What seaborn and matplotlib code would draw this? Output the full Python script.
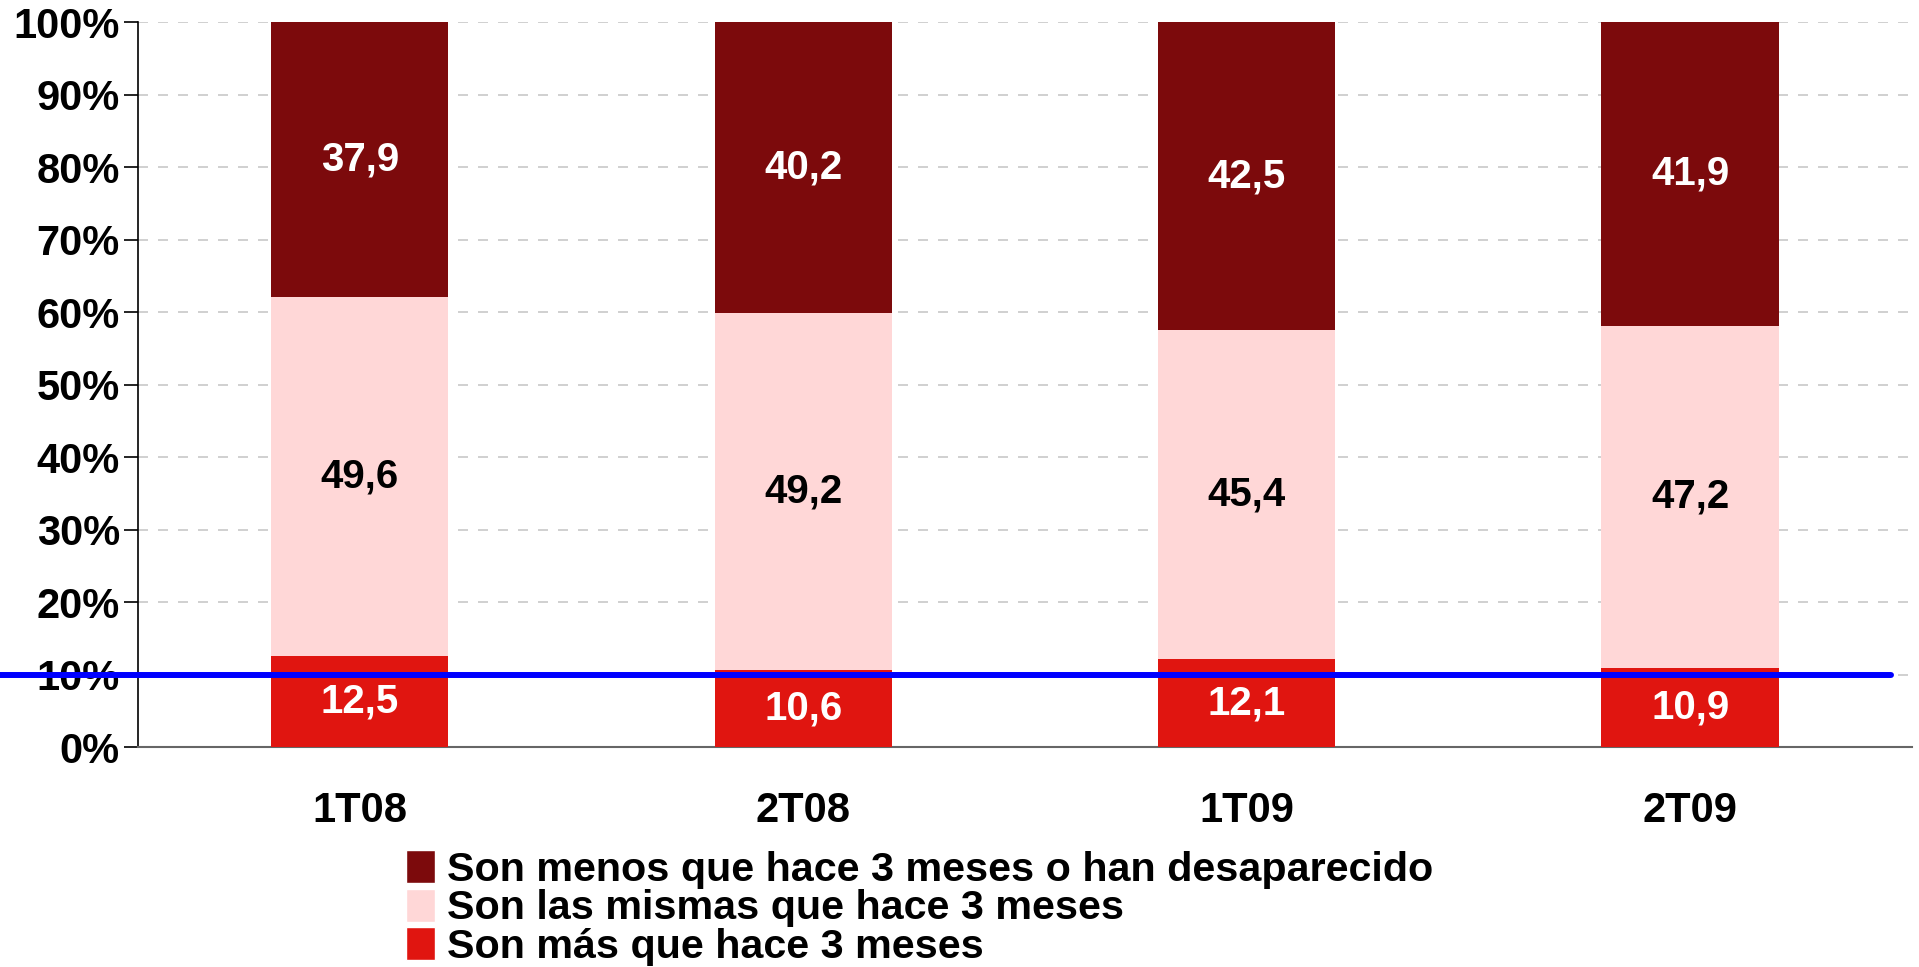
import numpy as np
import pandas as pd
import matplotlib
matplotlib.use("Agg")
import matplotlib.pyplot as plt
import seaborn as sns
from matplotlib.patches import Patch

# Data (percentages per quarter)
periodos = ["1T08", "2T08", "1T09", "2T09"]
mas = [12.5, 10.6, 12.1, 10.9]
mismas = [49.6, 49.2, 45.4, 47.2]
menos = [37.9, 40.2, 42.5, 41.9]

series_labels = [
    "Son menos que hace 3 meses o han desaparecido",
    "Son las mismas que hace 3 meses",
    "Son más que hace 3 meses",
]
colors = {"menos": "#7C0A0C", "mismas": "#FFD7D7", "mas": "#E01510"}
ref_level = 10

sns.set_theme(style="white")
plt.rcParams["font.family"] = ["Liberation Sans", "DejaVu Sans"]
plt.rcParams.update({
    "font.weight": "bold",
    "text.color": "black",
    "xtick.color": "black",
    "ytick.color": "black",
    "axes.labelcolor": "black",
})

df = pd.DataFrame({"periodo": periodos, "mas": mas, "mismas": mismas, "menos": menos})
df["c1"] = df["mas"]
df["c2"] = df["mas"] + df["mismas"]
df["c3"] = df["c2"] + df["menos"]

fig = plt.figure(figsize=(19.19, 9.67), dpi=100)
ax = fig.add_axes([0.0719, 0.2275, 0.9244, 0.7497])

# stacked bars: draw cumulative totals back to front
for col, key in [("c3", "menos"), ("c2", "mismas"), ("c1", "mas")]:
    sns.barplot(data=df, x="periodo", y=col, color=colors[key], width=0.4,
                saturation=1, linewidth=0, ax=ax, zorder=3)

# segment labels
def fmt(v):
    return f"{v:.1f}".replace(".", ",")

for i, row in df.iterrows():
    ax.text(i, row["mas"] / 2, fmt(row["mas"]), ha="center", va="center",
            color="white", fontsize=29, fontweight="bold", zorder=5)
    ax.text(i, row["c1"] + row["mismas"] / 2, fmt(row["mismas"]), ha="center",
            va="center", color="black", fontsize=29, fontweight="bold", zorder=5)
    ax.text(i, row["c2"] + row["menos"] / 2, fmt(row["menos"]), ha="center",
            va="center", color="white", fontsize=29, fontweight="bold", zorder=5)

ax.set_ylim(0, 100)
ax.set_xlim(-0.5, len(periodos) - 0.5)
ax.set_yticks(np.arange(0, 101, 10))
ax.set_yticklabels([f"{v}%" for v in range(0, 101, 10)], fontsize=30, fontweight="bold")
ax.set_xticks(range(len(periodos)))
ax.set_xticklabels(periodos, fontsize=30, fontweight="bold")
ax.set_xticks(np.arange(-0.5, len(periodos), 1), minor=True)
ax.tick_params(axis="x", which="major", length=0, pad=32)
ax.tick_params(axis="x", which="minor", length=10, width=1.2, color="#666666", direction="out")
ax.tick_params(axis="y", length=10, width=1.2, color="black", direction="out", pad=3, left=True)
ax.set_xlabel("")
ax.set_ylabel("")

ax.yaxis.grid(True, linestyle=(0, (6, 6)), color="#C8C8C8", linewidth=1.2, zorder=0)
ax.set_axisbelow(True)
for s in ["top", "right"]:
    ax.spines[s].set_visible(False)
ax.spines["left"].set_color("black")
ax.spines["left"].set_linewidth(1.2)
ax.spines["bottom"].set_color("#666666")
ax.spines["bottom"].set_linewidth(1.5)

# reference line at 10%
ax.axhline(ref_level, xmin=-0.078, xmax=0.988, color="#0000FF", linewidth=4.3,
           clip_on=False, zorder=6)

handles = [Patch(facecolor=colors["menos"]), Patch(facecolor=colors["mismas"]),
           Patch(facecolor=colors["mas"])]
fig.legend(handles, series_labels, loc="upper left", bbox_to_anchor=(0.2115, 0.121),
           frameon=False, prop={"weight": "bold", "size": 29.7},
           handlelength=0.7, handleheight=0.85, handletextpad=0.3, labelspacing=0.0,
           borderpad=0, borderaxespad=0)

fig.savefig("out.png", dpi=100)
